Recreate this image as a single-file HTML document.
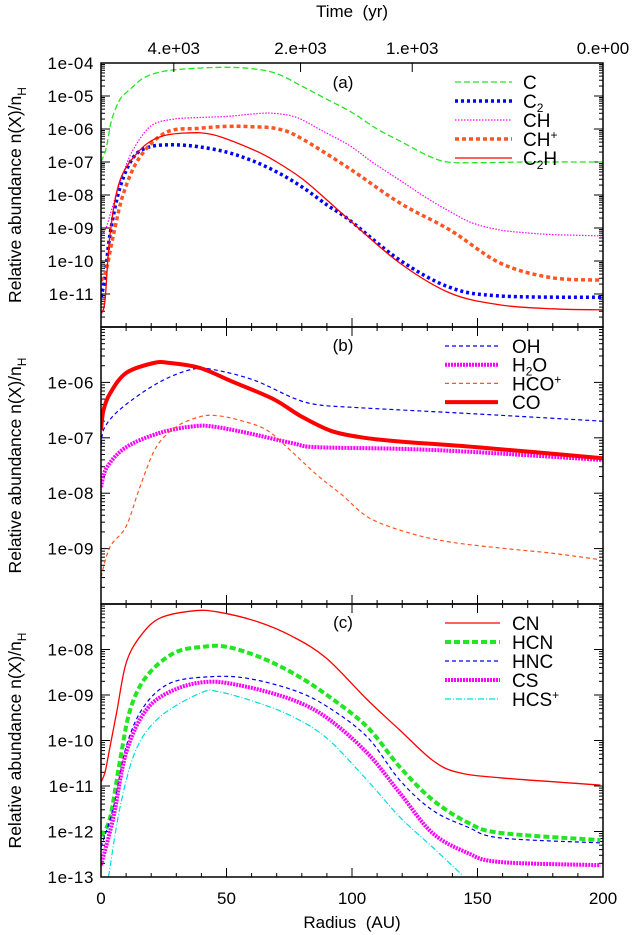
<!DOCTYPE html>
<html><head><meta charset="utf-8"><style>
body{margin:0;background:#fff}
svg{display:block;font-family:"Liberation Sans",sans-serif}
</style></head><body>
<svg id="chart" width="632" height="935" viewBox="0 0 632 935" xmlns="http://www.w3.org/2000/svg"></svg>
<script>
// ---- data (AU, log10 abundance) ----
const cR = [0,2,4,6,8,10,13,16,20,25,30,40,50,60,70,80,90,100,110,120,130,138,150,170,200];
const cV = [-7.0,-6.6,-5.8,-5.35,-5.05,-4.9,-4.7,-4.5,-4.35,-4.25,-4.2,-4.15,-4.13,-4.17,-4.32,-4.7,-5.1,-5.5,-6.0,-6.4,-6.8,-7.0,-7.02,-7.0,-7.0];
const c2R = [0,1.6,3.6,7.6,13,19.5,29,39,50,60,70,80,90,99,119,139,159,200];
const c2V = [-11.1,-10.5,-9.2,-7.76,-6.85,-6.54,-6.48,-6.54,-6.7,-6.95,-7.3,-7.75,-8.3,-8.76,-9.97,-10.8,-11.06,-11.1];
const chR = [0,2,4,6,9,13,20,29,40,50,60,68,78,88,99,108,119,130,139,148,159,170,180,190,200];
const chV = [-9.2,-9.0,-8.5,-8.0,-7.3,-6.6,-5.9,-5.7,-5.65,-5.62,-5.55,-5.52,-5.65,-6.05,-6.5,-7.0,-7.55,-8.1,-8.5,-8.85,-9.06,-9.15,-9.2,-9.22,-9.24];
const chpR = [0,2,5,9,15.5,26,39,50,60,70,79,99,119,139,159,179,199];
const chpV = [-10.6,-10.3,-9.2,-7.94,-6.85,-6.1,-5.98,-5.92,-5.93,-5.99,-6.25,-7.2,-8.24,-9.06,-10.06,-10.5,-10.58];
const c2hR = [0,1.6,3.6,7.6,15.5,23.5,34,45,61,70,80,90,99,119,139,159,180,200];
const c2hV = [-11.6,-11.2,-9.2,-7.55,-6.64,-6.24,-6.12,-6.18,-6.64,-7.0,-7.5,-8.15,-8.76,-10.06,-10.97,-11.33,-11.45,-11.48];

const ohR = [0,1.6,8.8,23.5,36.7,46,61,76.5,86,100,150,200];
const ohV = [-7.13,-6.8,-6.44,-5.99,-5.76,-5.78,-5.96,-6.28,-6.4,-6.45,-6.57,-6.7];
const h2oR = [0,2.4,10,23.5,37,45,58,76.5,86,120,150,200];
const h2oV = [-7.89,-7.53,-7.17,-6.91,-6.79,-6.8,-6.91,-7.1,-7.17,-7.2,-7.26,-7.4];
const hcopR = [0,3.6,10,15.5,22,30,39.5,46,55,66,76.5,86,96,107,123,139,159,179,199];
const hcopV = [-9.51,-8.97,-8.6,-7.89,-7.17,-6.8,-6.62,-6.6,-6.68,-6.86,-7.27,-7.67,-8.03,-8.45,-8.72,-8.88,-8.99,-9.08,-9.2];
const coR = [0,1,3.6,10,21,27.5,39.5,52.5,68.6,80,92,105,120,150,200];
const coV = [-6.86,-6.5,-6.2,-5.83,-5.65,-5.65,-5.74,-5.99,-6.3,-6.62,-6.88,-7.0,-7.07,-7.17,-7.37];

const cnR = [0,1.6,3.6,6.4,10,15.5,23.5,37,47,63,76.5,90,106,119,132,142,159,199];
const cnV = [-10.91,-10.7,-10.14,-9.33,-8.3,-7.72,-7.31,-7.15,-7.18,-7.4,-7.72,-8.2,-9.1,-9.77,-10.43,-10.7,-10.82,-10.98];
const hcnR = [0,3.6,7.6,11.6,18,29,40.6,50,63,76.5,90,106,119,132,146,159,199];
const hcnV = [-12.1,-11.7,-10.43,-9.33,-8.6,-8.08,-7.94,-7.94,-8.16,-8.52,-9.0,-9.7,-10.58,-11.3,-11.8,-12.03,-12.19];
const hncR = [0,5,10,17,27.5,43,58,76.5,90,106,119,132,146,159,199];
const hncV = [-12.34,-11.46,-10.14,-9.26,-8.74,-8.6,-8.63,-8.89,-9.25,-9.92,-10.87,-11.53,-11.9,-12.14,-12.25];
const csR = [0,5,10,18,29,43,58,76.5,90,106,119,132,146,159,199];
const csV = [-12.74,-11.68,-10.27,-9.33,-8.89,-8.71,-8.82,-9.11,-9.5,-10.27,-11.15,-12.03,-12.47,-12.67,-12.74];
const hcspR = [3,7.6,14,23.5,39.5,47,63,76.5,90,106,119,132,144];
const hcspV = [-13.0,-11.46,-10.2,-9.48,-8.96,-8.93,-9.18,-9.48,-9.95,-10.87,-11.68,-12.34,-12.96];

const xTicks = [0,50,100,150,200];
const timeLabels = ["4.e+03","2.e+03","1.e+03","0.e+00"];
const timeAU = [29,79.5,124,200];

const NS="http://www.w3.org/2000/svg";
const svg=document.getElementById('chart');
const X0=101,X1=603;
const xs=r=>X0+(X1-X0)*r/200;
function mk(tag,attrs,parent){const e=document.createElementNS(NS,tag);for(const k in attrs)e.setAttribute(k,attrs[k]);(parent||svg).appendChild(e);return e;}
function txt(x,y,s,anchor,size,parent){const t=mk('text',{x:x,y:y,'text-anchor':anchor||'middle','font-size':size||14,fill:'#000'},parent);t.innerHTML=s;return t;}
function smooth(P){
  let d='M'+P[0][0].toFixed(1)+','+P[0][1].toFixed(1);
  for(let i=0;i<P.length-1;i++){
    const p0=P[Math.max(0,i-1)],p1=P[i],p2=P[i+1],p3=P[Math.min(P.length-1,i+2)];
    const c1=[p1[0]+(p2[0]-p0[0])/6,p1[1]+(p2[1]-p0[1])/6];
    const c2=[p2[0]-(p3[0]-p1[0])/6,p2[1]-(p3[1]-p1[1])/6];
    d+=' C'+c1[0].toFixed(1)+','+c1[1].toFixed(1)+' '+c2[0].toFixed(1)+','+c2[1].toFixed(1)+' '+p2[0].toFixed(1)+','+p2[1].toFixed(1);
  }
  return d;
}

const panels=[
 {id:'a',top:63,bot:327,lmax:-4,lmin:-12,labels:[-4,-5,-6,-7,-8,-9,-10,-11],
  series:[[cR,cV,'#22e622',1.3,'6,3','C'],[c2R,c2V,'#0000ff',3.5,'3,3','C<tspan dy="4" font-size="12">2</tspan>'],[chR,chV,'#ff00ff',1.2,'1.5,1.5','CH'],[chpR,chpV,'#ff5522',3.5,'4,3','CH<tspan dy="-7" font-size="12">+</tspan>'],[c2hR,c2hV,'#ff0000',1.3,'','C<tspan dy="4" font-size="12">2</tspan><tspan dy="-4">H</tspan>']],
  leg:{x1:455,x2:512,tx:523,y0:82,dy:19}},
 {id:'b',top:327,bot:604,lmax:-5,lmin:-10,labels:[-6,-7,-8,-9],
  series:[[ohR,ohV,'#0000ee',1.2,'4,3','OH'],[h2oR,h2oV,'#ff00ff',4,'2,1','H<tspan dy="4" font-size="12">2</tspan><tspan dy="-4">O</tspan>'],[hcopR,hcopV,'#ff5522',1.2,'4,3','HCO<tspan dy="-7" font-size="12">+</tspan>'],[coR,coV,'#ff0000',4,'','CO']],
  leg:{x1:445,x2:498,tx:512,y0:346,dy:18.7}},
 {id:'c',top:604,bot:877,lmax:-7,lmin:-13,labels:[-8,-9,-10,-11,-12,-13],
  series:[[cnR,cnV,'#ff0000',1.3,'','CN'],[hcnR,hcnV,'#22e622',4,'6,3','HCN'],[hncR,hncV,'#0000ee',1.2,'4,3','HNC'],[csR,csV,'#ff00ff',4,'2,1','CS'],[hcspR,hcspV,'#00dddd',1.2,'6,2,1,2','HCS<tspan dy="-7" font-size="12">+</tspan>']],
  leg:{x1:445,x2:500,tx:512,y0:623,dy:19}}
];

panels.forEach((p,pi)=>{
  const g=mk('g',{});
  
  
  const ys=l=>p.top+(p.bot-p.top)*(p.lmax-l)/(p.lmax-p.lmin);
  mk('clipPath',{id:'clip'+p.id},g).appendChild(mk('rect',{x:X0,y:p.top,width:X1-X0,height:p.bot-p.top},g));
  for(let d=p.lmin;d<p.lmax;d++){
    for(let m=1;m<10;m++){
      const y=ys(d+Math.log10(m));
      const L=m===1?9:4;
      mk('line',{x1:X0,x2:X0+L,y1:y,y2:y,stroke:'#000','stroke-width':1},g);
      mk('line',{x1:X1,x2:X1-L,y1:y,y2:y,stroke:'#000','stroke-width':1},g);
    }
  }
  p.labels.forEach(l=>{
    const t=txt(94,ys(l)+6,'1e-'+String(-l).padStart(2,'0'),'end',17,g);
    t.setAttribute('letter-spacing','0.6');
    
    
  });
  for(let r=0;r<=200;r+=10){
    const L=r%50===0?9:4;
    mk('line',{x1:xs(r),x2:xs(r),y1:p.bot,y2:p.bot-L,stroke:'#000'},g);
    if(pi>0) mk('line',{x1:xs(r),x2:xs(r),y1:p.top,y2:p.top+L,stroke:'#000'},g);
  }
  const sg=mk('g',{'clip-path':'url(#clip'+p.id+')'},g);
  p.series.forEach((s,si)=>{
    const [R,V,col,w,dash,name]=s;
    const P=R.map((r,i)=>[xs(r),ys(V[i])]);
    const pl=mk('path',{d:smooth(P),fill:'none',stroke:col,'stroke-width':w,'stroke-dasharray':dash||'none','stroke-linejoin':'round'},sg);
    
    
    const ly=p.leg.y0+si*p.leg.dy;
    const ll=mk('line',{x1:p.leg.x1,x2:p.leg.x2,y1:ly,y2:ly,stroke:col,'stroke-width':w,'stroke-dasharray':dash||'none'},g);
    
    
    const lt=txt(p.leg.tx,ly+7,name,'start',19,g);
    
    
  });
  mk('rect',{x:X0,y:p.top,width:X1-X0,height:p.bot-p.top,fill:'none',stroke:'#000','stroke-width':1.5},g);
  const pl=txt(343,p.id==='c'?628:(p.id==='b'?351:88),'('+p.id+')','middle',17,g);
  
  
  const yt=mk('text',{x:0,y:0,'text-anchor':'middle','font-size':17.5,transform:'translate(21,'+((p.top+p.bot)/2)+') rotate(-90)'},g);
  yt.innerHTML='Relative abundance n(X)/n<tspan dy="5" font-size="12">H</tspan>';
  
  
});
timeAU.forEach((r,i)=>{
  mk('line',{x1:xs(r),x2:xs(r),y1:63,y2:72,stroke:'#000'});
  const t=txt(xs(r),54,timeLabels[i],'middle',17);
  
  
});
const tt=txt(352,17,'Time&#160;&#160;(yr)','middle',17);


xTicks.forEach(r=>{
  const t=txt(xs(r),904,String(r),'middle',17);
  
  
});
const xt=txt(352,928,'Radius&#160;&#160;(AU)','middle',17);


</script>
</body></html>
